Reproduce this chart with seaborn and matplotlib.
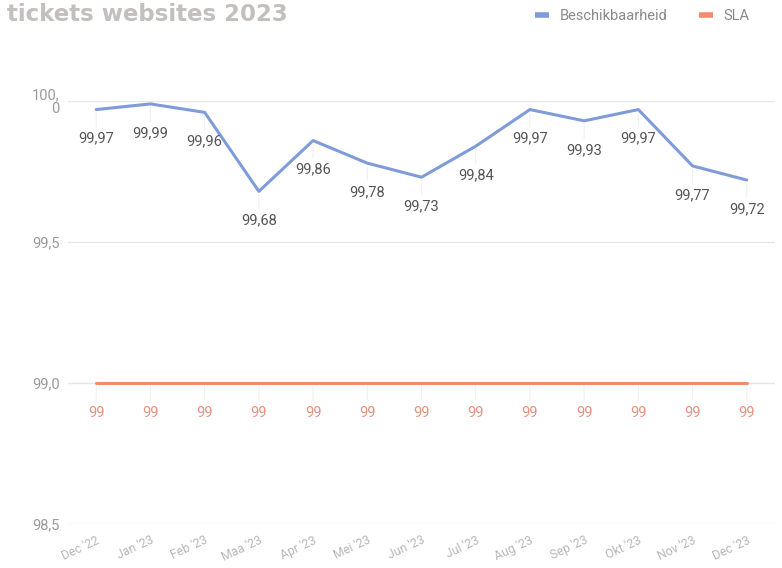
import matplotlib
matplotlib.use("Agg")
import matplotlib.pyplot as plt
import seaborn as sns
import pandas as pd
from matplotlib.lines import Line2D

months = ["Dec '22", "Jan '23", "Feb '23", "Maa '23", "Apr '23", "Mei '23", "Jun '23",
          "Jul '23", "Aug '23", "Sep '23", "Okt '23", "Nov '23", "Dec '23"]
beschikbaarheid = [99.97, 99.99, 99.96, 99.68, 99.86, 99.78, 99.73, 99.84, 99.97, 99.93, 99.97, 99.77, 99.72]
sla = [99] * 13
y_ticks = [98.5, 99.0, 99.5, 100.0]
y_tick_labels = ["98,5", "99,0", "99,5", "100,\n0"]

BLUE = "#7f9bd9"
ORANGE = "#f28c6e"

sns.set_theme(style="white")
plt.rcParams['font.family'] = ['Roboto', 'DejaVu Sans']

df = pd.DataFrame({
    "idx": list(range(len(months))) * 2,
    "value": beschikbaarheid + sla,
    "series": ["Beschikbaarheid"] * len(months) + ["SLA"] * len(months),
})

fig = plt.figure(figsize=(7.82, 5.68), dpi=100)
ax = fig.add_axes([0.087, 0.0775, 0.904, 0.7445])

sns.lineplot(data=df, x="idx", y="value", hue="series",
             palette={"Beschikbaarheid": BLUE, "SLA": ORANGE},
             linewidth=2.2, ax=ax, legend=False)

ax.set_ylim(98.5, 100.0)
ax.set_xlim(-0.52, 12.52)
ax.set_yticks(y_ticks)
ax.set_yticklabels(y_tick_labels, fontsize=10.5, color="#9a9a9a", linespacing=0.9)
ax.set_xticks(range(len(months)))
ax.set_xticklabels(months, rotation=25, fontsize=8.8, color="#b8b8b8", ha="right",
                   rotation_mode="anchor")
ax.tick_params(axis="x", length=0, pad=7)
ax.tick_params(axis="y", length=0, pad=6)
ax.set_xlabel("")
ax.set_ylabel("")
for s in ax.spines.values():
    s.set_visible(False)
for yt in y_ticks:
    ax.axhline(yt, color="#e6e6e6", lw=1, zorder=0)

# data labels
for i, v in enumerate(beschikbaarheid):
    ax.annotate(f"{v:.2f}".replace(".", ","), (i, v), xytext=(0, -29),
                textcoords="offset pixels",
                ha="center", va="center", fontsize=10.5, color="#555555")
    ax.annotate("", (i, v), xytext=(0, -20), textcoords="offset pixels",
                arrowprops=dict(arrowstyle="-", color="#f0f0f0", lw=0.8))
for i, v in enumerate(sla):
    ax.annotate(f"{v:g}", (i, v), xytext=(0, -30), textcoords="offset pixels",
                ha="center", va="center", fontsize=10.5, color="#e8917d")
    ax.annotate("", (i, v), xytext=(0, -20), textcoords="offset pixels",
                arrowprops=dict(arrowstyle="-", color="#f0f0f0", lw=0.8))

# title
fig.text(0.009, 0.963, "tickets websites 2023", fontsize=16.5, fontweight="bold",
         color="#c2bfbd", ha="left", va="baseline", family=["DejaVu Sans"])

# legend
handles = [Line2D([0], [0], color=BLUE, lw=4, solid_capstyle="butt"),
           Line2D([0], [0], color=ORANGE, lw=4, solid_capstyle="butt")]
fig.legend(handles, ["Beschikbaarheid", "SLA"], loc="center right",
           bbox_to_anchor=(0.975, 0.972), ncol=2, frameon=False, fontsize=10.5,
           labelcolor="#8a8a8a", handlelength=0.95, columnspacing=2.2, handletextpad=0.7)

fig.savefig("out.png", dpi=100)
